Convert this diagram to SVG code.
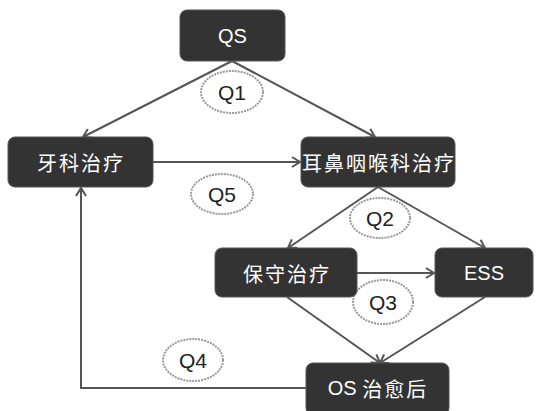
<svg xmlns="http://www.w3.org/2000/svg" width="536" height="411" viewBox="0 0 536 411">
<defs>
<style>
.box{fill:#333;stroke:#555;stroke-width:1}
.t{fill:#fff;font-family:"Liberation Sans","Noto Sans CJK SC",sans-serif;font-size:20px;text-anchor:middle;dominant-baseline:central}
.ct{font-family:"Noto Sans CJK SC","Liberation Sans",sans-serif;letter-spacing:2px}
.e{fill:#fff;stroke:#999;stroke-width:2;stroke-dasharray:2 1}
.q{fill:#222;font-family:"Liberation Sans",sans-serif;font-size:21px;text-anchor:middle;dominant-baseline:central}
.c{fill:none;stroke:#555;stroke-width:2}
</style>
<marker id="a" markerWidth="12" markerHeight="12" viewBox="0 0 12 12" refX="10" refY="6" orient="auto" markerUnits="userSpaceOnUse">
<path d="M2,1 L10,6 L2,11" fill="none" stroke="#555" stroke-width="2"/>
</marker>
</defs>
<rect width="536" height="411" fill="#fff"/>
<g id="connectors">
<line class="c" x1="232" y1="61" x2="83" y2="137" marker-end="url(#a)"/>
<line class="c" x1="232" y1="61" x2="375" y2="137" marker-end="url(#a)"/>
<line class="c" x1="153" y1="162" x2="300" y2="162" marker-end="url(#a)"/>
<line class="c" x1="378" y1="187" x2="288" y2="248" marker-end="url(#a)"/>
<line class="c" x1="378" y1="187" x2="485" y2="248" marker-end="url(#a)"/>
<line class="c" x1="357" y1="273" x2="434" y2="273" marker-end="url(#a)"/>
<line class="c" x1="287" y1="297" x2="380" y2="363" marker-end="url(#a)"/>
<line class="c" x1="485" y1="297" x2="380" y2="363" marker-end="url(#a)"/>
<polyline class="c" points="306,388 81,388 81,188" marker-end="url(#a)"/>
</g>
<g id="labels">
<g id="q1"><ellipse class="e" cx="232" cy="92" rx="31" ry="21"/><text class="q" x="232" y="92">Q1</text></g>
<g id="q5"><ellipse class="e" cx="222" cy="194" rx="31" ry="20"/><text class="q" x="222" y="194">Q5</text></g>
<g id="q2"><ellipse class="e" cx="380" cy="218" rx="30" ry="20"/><text class="q" x="380" y="218">Q2</text></g>
<g id="q3"><ellipse class="e" cx="383" cy="302" rx="30" ry="22"/><text class="q" x="383" y="302">Q3</text></g>
<g id="q4"><ellipse class="e" cx="193" cy="360" rx="30" ry="21"/><text class="q" x="193" y="360">Q4</text></g>
</g>
<g id="n-qs"><rect class="box" x="180" y="10" width="105" height="51" rx="7"/><text class="t" x="232.5" y="36">QS</text></g>
<g id="n-dental"><rect class="box" x="8" y="137" width="145" height="50" rx="7"/><text class="t ct" x="81" y="162">牙科治疗</text></g>
<g id="n-ent"><rect class="box" x="301" y="137" width="154" height="50" rx="7"/><text class="t ct" x="379" y="162">耳鼻咽喉科治疗</text></g>
<g id="n-cons"><rect class="box" x="215" y="248" width="142" height="49" rx="7"/><text class="t ct" x="287" y="273">保守治疗</text></g>
<g id="n-ess"><rect class="box" x="435" y="248" width="98" height="49" rx="7"/><text class="t" x="484" y="273">ESS</text></g>
<g id="n-os"><rect class="box" x="306" y="363" width="143" height="52" rx="7"/><text class="t" x="378" y="388">OS <tspan class="ct">治愈后</tspan></text></g>
</svg>
